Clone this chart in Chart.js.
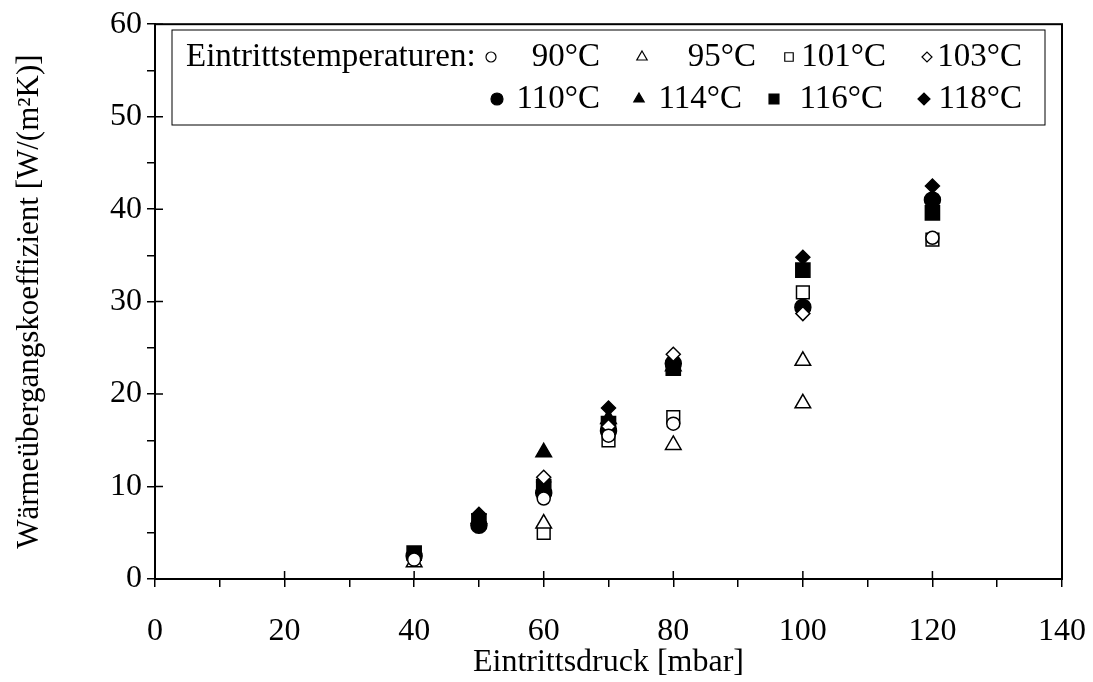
<!DOCTYPE html>
<html>
<head>
<meta charset="utf-8">
<script src="https://cdn.jsdelivr.net/npm/chart.js@4"></script>
<style>
  body { margin: 0; background: #fff; }
  #wrap { width: 1093px; height: 682px; }
</style>
</head>
<body>
<div id="wrap"><canvas id="chart"></canvas></div>
<script>
// series labels (Eintrittstemperaturen)
const temps = ['90°C', '95°C', '101°C', '103°C', '110°C', '114°C', '116°C', '118°C'];

// Eintrittsdruck [mbar] and Waermeuebergangskoeffizient [W/(m²K)] per series
const p90 = [40, 60, 70, 80, 120];
const h90 = [2.1, 8.7, 15.5, 16.8, 36.9];
const p95 = [40, 60, 80, 100, 100];
const h95 = [1.8, 6.0, 14.5, 23.6, 19.0];
const p101 = [60, 70, 80, 100, 120];
const h101 = [5.0, 15.0, 17.5, 31.0, 36.7];
const p103 = [60, 70, 80, 100];
const h103 = [11.0, 16.5, 24.3, 28.7];
const p110 = [40, 50, 60, 70, 80, 100, 120];
const h110 = [2.5, 5.8, 9.3, 16.0, 23.3, 29.4, 41.0];
const p114 = [50, 60, 70, 80];
const h114 = [6.5, 13.7, 17.3, 23.0];
const p116 = [40, 50, 60, 70, 80, 100, 120];
const h116 = [2.8, 6.3, 10.0, 16.8, 22.8, 33.4, 39.6];
const p118 = [40, 50, 60, 70, 80, 100, 120];
const h118 = [2.6, 7.0, 10.5, 18.5, 23.5, 34.8, 42.5];

// axis ticks
const xTicks = [0, 20, 40, 60, 80, 100, 120, 140];
const yTicks = [0, 10, 20, 30, 40, 50, 60];

const FONT = '"Liberation Serif", "Times New Roman", serif';
const FS = 32;

function pts(xs, ys) {
    return xs.map((x, i) => ({ x: x, y: ys[i] }));
}

const styles = ['circle', 'triangle', 'rect', 'rectRot', 'circle', 'triangle', 'rect', 'rectRot'];
const filled = [false, false, false, false, true, true, true, true];
const radii = [6.5, 9, 9, 7, 8, 9, 10, 7];
const seriesData = [
    pts(p90, h90), pts(p95, h95), pts(p101, h101), pts(p103, h103),
    pts(p110, h110), pts(p114, h114), pts(p116, h116), pts(p118, h118)
];

const datasets = temps.map((t, i) => ({
    label: t,
    data: seriesData[i],
    pointStyle: styles[i],
    pointRadius: radii[i],
    pointBorderWidth: 1.5,
    pointBorderColor: '#000',
    pointBackgroundColor: filled[i] ? '#000' : '#fff',
    showLine: false
}));

// frame, inner ticks and the legend box
const framePlugin = {
    id: 'frame',
    afterDraw(chart) {
        const ctx = chart.ctx;
        const a = chart.chartArea;
        const xs = chart.scales.x, ys = chart.scales.y;
        ctx.save();
        ctx.strokeStyle = '#000';
        ctx.lineWidth = 2;
        ctx.strokeRect(a.left, a.top, a.right - a.left, a.bottom - a.top);
        ctx.lineWidth = 1.5;
        ctx.beginPath();
        xTicks.forEach(v => {
            const px = xs.getPixelForValue(v);
            ctx.moveTo(px, a.bottom);
            ctx.lineTo(px, a.bottom - 8);
        });
        yTicks.forEach(v => {
            const py = ys.getPixelForValue(v);
            ctx.moveTo(a.left, py);
            ctx.lineTo(a.left + 8, py);
        });
        ctx.stroke();

        // legend
        const bx = 172, by = 30, bw = 873, bh = 95;
        ctx.fillStyle = '#fff';
        ctx.fillRect(bx, by, bw, bh);
        ctx.lineWidth = 1;
        ctx.strokeRect(bx, by, bw, bh);
        ctx.fillStyle = '#000';
        ctx.font = '33px ' + FONT;
        ctx.textBaseline = 'middle';
        ctx.textAlign = 'left';
        const row1 = 57, row2 = 99;
        ctx.fillText('Eintrittstemperaturen:', 186, row1);
        ctx.textAlign = 'right';
        // [marker x, text right edge, row]
        const items = [
            [491, 600, row1], [642, 756, row1], [789, 886, row1], [927, 1022, row1],
            [497, 600, row2], [639, 742, row2], [774, 883, row2], [924, 1022, row2]
        ];
        const legR = [5, 6, 6, 5, 6, 6, 7, 6];
        items.forEach((it, i) => {
            ctx.fillStyle = filled[i] ? '#000' : '#fff';
            ctx.strokeStyle = '#000';
            ctx.lineWidth = 1.2;
            Chart.helpers.drawPoint(ctx, {
                pointStyle: styles[i],
                radius: legR[i],
                borderWidth: 1.2,
                rotation: 0
            }, it[0], it[2]);
            ctx.fillStyle = '#000';
            ctx.fillText(temps[i], it[1], it[2]);
        });
        ctx.restore();
    }
};

const ctx = document.getElementById('chart');
new Chart(ctx, {
    type: 'scatter',
    data: { datasets: datasets },
    options: {
        responsive: true,
        maintainAspectRatio: false,
        animation: false,
        layout: { padding: { top: 20, right: 31, left: 0, bottom: 0 } },
        plugins: { legend: { display: false }, tooltip: { enabled: false } },
        scales: {
            x: {
                type: 'linear',
                min: 0, max: 140,
                afterFit(scale) {
                    scale.height = 103;
                    scale.paddingRight = 0;
                    scale.paddingLeft = 0;
                },
                ticks: {
                    stepSize: 10,
                    autoSkip: false,
                    maxRotation: 0,
                    padding: 25,
                    color: '#000',
                    font: { family: FONT, size: FS },
                    callback: v => (v % 20 === 0 ? v : '')
                },
                grid: { drawOnChartArea: false, tickLength: 8, color: '#000', lineWidth: 1.5 },
                border: { color: '#000', width: 2 },
                title: {
                    display: true,
                    text: 'Eintrittsdruck [mbar]',
                    color: '#000',
                    font: { family: FONT, size: FS },
                    padding: { top: 0, bottom: 0 }
                }
            },
            y: {
                type: 'linear',
                min: 0, max: 60,
                afterFit(scale) { scale.width = 155; },
                ticks: {
                    stepSize: 5,
                    autoSkip: false,
                    padding: 5,
                    color: '#000',
                    font: { family: FONT, size: FS },
                    callback: v => (v % 10 === 0 ? v : '')
                },
                grid: { drawOnChartArea: false, tickLength: 8, color: '#000', lineWidth: 1.5 },
                border: { color: '#000', width: 2 },
                title: {
                    display: true,
                    text: 'Wärmeübergangskoeffizient [W/(m²K)]',
                    color: '#000',
                    font: { family: FONT, size: 31 },
                    padding: { top: 11, bottom: 0 }
                }
            }
        }
    },
    plugins: [framePlugin]
});
</script>
</body>
</html>
